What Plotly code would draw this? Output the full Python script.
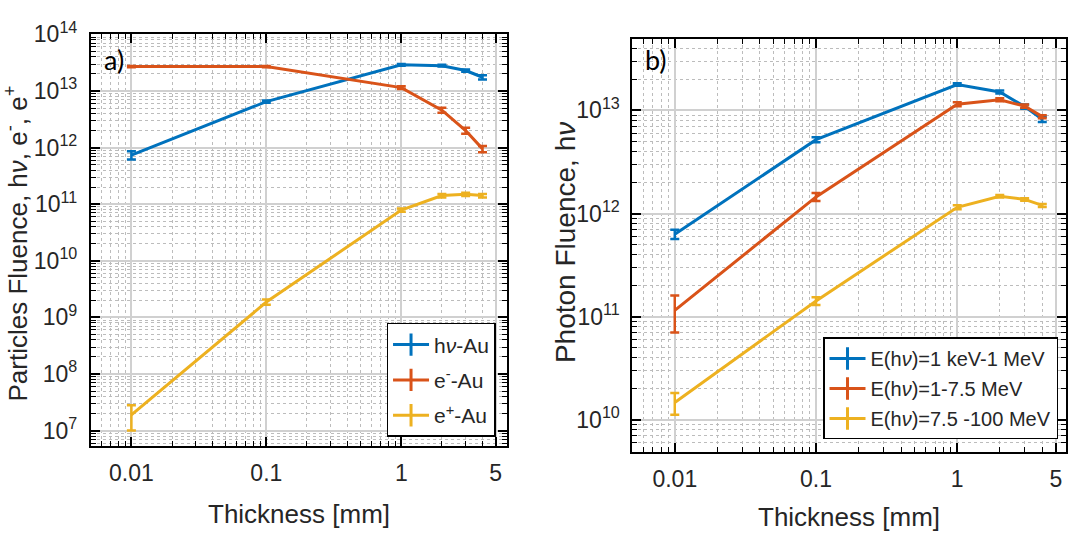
import plotly.graph_objects as go

# Target thickness [mm]
thickness = [0.01, 0.1, 1, 2, 3, 4]

# a) particle fluence behind Au converter
photon_au = [7.4e11, 6.5e12, 2.9e13, 2.8e13, 2.3e13, 1.75e13]
photon_au_err = [1.2e11, 0.3e12, 0.1e13, 0.1e13, 0.1e13, 0.15e13]
electron_au = [2.7e13, 2.7e13, 1.15e13, 4.6e12, 2.0e12, 9.5e11]
electron_au_err = [0.08e13, 0.08e13, 0.06e13, 4.5e11, 2.4e11, 1.2e11]
positron_au = [1.9e7, 1.87e9, 7.9e10, 1.42e11, 1.5e11, 1.42e11]
positron_au_err = [0.9e7, 0.2e9, 0.5e10, 0.1e11, 0.1e11, 0.1e11]

# b) photon fluence split by energy band
photon_low = [6.3e11, 5.2e12, 1.78e13, 1.51e13, 1.09e13, 8.2e12]
photon_low_err = [0.65e11, 0.3e12, 0.05e13, 0.05e13, 0.05e13, 0.5e12]
photon_mid = [1.15e11, 1.45e12, 1.15e13, 1.27e13, 1.1e13, 8.7e12]
photon_mid_err = [0.45e11, 0.13e12, 0.05e13, 0.04e13, 0.04e13, 0.3e12]
photon_high = [1.47e10, 1.42e11, 1.15e12, 1.47e12, 1.37e12, 1.2e12]
photon_high_err = [0.35e10, 0.12e11, 0.05e12, 0.04e12, 0.04e12, 0.04e12]

left_names = ["h<i>ν</i>-Au", "e<sup>-</sup>-Au", "e<sup>+</sup>-Au"]
right_names = ["E(h<i>ν</i>)=1 keV-1 MeV", "E(h<i>ν</i>)=1-7.5 MeV",
               "E(h<i>ν</i>)=7.5 -100 MeV"]

x_tickvals = [0.01, 0.1, 1, 5]
x_ticktext = ["0.01", "0.1", "1", "5"]
left_exponents = [7, 8, 9, 10, 11, 12, 13, 14]
right_exponents = [10, 11, 12, 13]

colors = ["#0072BD", "#D95319", "#EDB120"]
FONT = "Liberation Sans, Arial, sans-serif"
TXT = "#262626"

fig = go.Figure()


def add_series(y, err, color, name, xa, ya, legend):
    fig.add_trace(go.Scatter(
        x=thickness, y=y, mode="lines", xaxis=xa, yaxis=ya,
        line=dict(color=color, width=3), showlegend=False,
        error_y=dict(type="data", array=err, visible=True, color=color,
                     thickness=2.5, width=4.5),
    ))
    # legend entry with an error-bar style glyph
    fig.add_trace(go.Scatter(
        x=[None], y=[None], mode="lines+markers", xaxis=xa, yaxis=ya,
        name=name, legend=legend, legendgroup=legend + name,
        line=dict(color=color, width=3),
        marker=dict(symbol="line-ns", size=18,
                    line=dict(color=color, width=3)),
    ))


for y, e, c, n in zip([photon_au, electron_au, positron_au],
                      [photon_au_err, electron_au_err, positron_au_err],
                      colors, left_names):
    add_series(y, e, c, n, "x", "y", "legend")

for y, e, c, n in zip([photon_low, photon_mid, photon_high],
                      [photon_low_err, photon_mid_err, photon_high_err],
                      colors, right_names):
    add_series(y, e, c, n, "x2", "y2", "legend2")

W, H = 1068, 534


def px_x(p):
    return p / W


def px_y(p):
    return 1 - p / H


def log_minor(lo, hi):
    # 2..9 multiples of every decade from 10**lo to 10**hi
    return [m * 10.0 ** d for d in range(lo, hi) for m in range(2, 10)]


axis_common = dict(
    type="log", showline=True, linecolor="black", linewidth=2,
    mirror="ticks", ticks="inside", ticklen=9, tickwidth=1.5,
    tickcolor="black", showgrid=True, gridcolor="#d0d0d0", gridwidth=1.5,
    zeroline=False, tickfont=dict(family=FONT, size=23, color=TXT),
)
minor_common = dict(ticks="inside", ticklen=5, tickwidth=1, tickcolor="black",
                    showgrid=True, gridcolor="#bcbcbc", gridwidth=1,
                    griddash="dot", tickmode="array")

fig.update_layout(
    width=W, height=H, margin=dict(l=0, r=0, t=0, b=0),
    paper_bgcolor="white", plot_bgcolor="white",
    xaxis=dict(axis_common, domain=[px_x(91), px_x(507)],
               range=[-2.3, 0.78], tickvals=x_tickvals, ticktext=x_ticktext,
               ticklabelstandoff=6, anchor="y",
               minor=dict(minor_common, tickvals=log_minor(-3, 1))),
    yaxis=dict(axis_common, domain=[px_y(443), px_y(18)],
               range=[6.73, 14.0],
               tickvals=[10 ** k for k in left_exponents],
               ticktext=["10<sup>%d</sup>" % k for k in left_exponents],
               ticklabelstandoff=7, anchor="x",
               minor=dict(minor_common, tickvals=log_minor(6, 14))),
    xaxis2=dict(axis_common, domain=[px_x(633), px_x(1067)],
                range=[-2.3, 0.77], tickvals=x_tickvals, ticktext=x_ticktext,
                ticklabelstandoff=6, anchor="y2",
                minor=dict(minor_common, tickvals=log_minor(-3, 1))),
    yaxis2=dict(axis_common, domain=[px_y(449), px_y(23)],
                range=[9.69, 13.69],
                tickvals=[10 ** k for k in right_exponents],
                ticktext=["10<sup>%d</sup>" % k for k in right_exponents],
                ticklabelstandoff=6, anchor="x2",
                minor=dict(minor_common, tickvals=log_minor(9, 14))),
    legend=dict(x=px_x(496), y=px_y(316), xanchor="right", yanchor="top",
                bgcolor="white", bordercolor="black", borderwidth=1.5,
                font=dict(family=FONT, size=21, color=TXT),
                tracegroupgap=5, itemwidth=36),
    legend2=dict(x=px_x(1059), y=px_y(331), xanchor="right", yanchor="top",
                 bgcolor="white", bordercolor="black", borderwidth=1.5,
                 font=dict(family=FONT, size=20, color=TXT),
                 tracegroupgap=1, itemwidth=36),
)

annotations = [
    dict(text="Particles Fluence, h<i>ν</i>, e<sup>-</sup>, e<sup>+</sup>",
         x=px_x(17), y=px_y(234), textangle=-90,
         font=dict(family=FONT, size=26, color=TXT)),
    dict(text="Photon Fluence, h<i>ν</i>", x=px_x(566), y=px_y(233),
         textangle=-90, font=dict(family=FONT, size=28, color=TXT)),
    dict(text="Thickness [mm]", x=px_x(299), y=px_y(513),
         font=dict(family=FONT, size=26, color=TXT)),
    dict(text="Thickness [mm]", x=px_x(850), y=px_y(516),
         font=dict(family=FONT, size=26, color=TXT)),
    dict(text="a)", x=px_x(114), y=px_y(44),
         font=dict(family="Lato, Open Sans, sans-serif", size=27, color="black")),
    dict(text="b)", x=px_x(657), y=px_y(44),
         font=dict(family="Lato, Open Sans, sans-serif", size=27, color="black")),
]
for a in annotations:
    a.update(xref="paper", yref="paper", showarrow=False,
             xanchor="center", yanchor="middle")
fig.update_layout(annotations=annotations)

fig.write_html("out.html")
